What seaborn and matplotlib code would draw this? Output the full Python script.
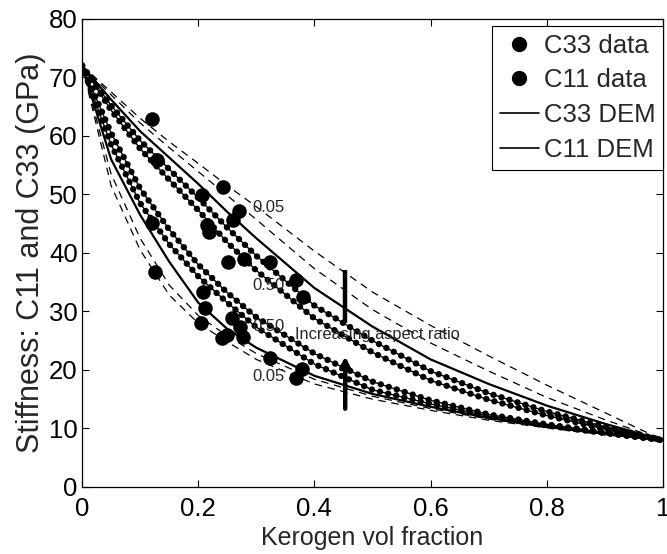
import matplotlib
matplotlib.use("Agg")
import matplotlib.pyplot as plt
import seaborn as sns
import pandas as pd
from matplotlib.lines import Line2D

# ---------------- data ----------------
kerogen = [0, 0.05, 0.1, 0.15, 0.2, 0.25, 0.3, 0.4, 0.5, 0.6, 0.7, 0.8, 0.9, 1.0]

# C11 DEM family (aspect ratio 0.05 on top -> 0.50 at bottom)
c11_ar005 = [72, 67.5, 63.0, 59.0, 55.3, 51.5, 47.9, 40.3, 33.3, 27.6, 22.4, 17.4, 12.7, 8]
c11_ar010 = [72, 67.0, 62.2, 58.0, 53.9, 49.8, 45.7, 37.3, 30.3, 24.6, 19.8, 15.3, 11.5, 8]
c11_ar020 = [72, 66.2, 60.8, 56.3, 51.8, 47.0, 42.5, 34.0, 27.4, 21.8, 17.6, 13.9, 10.8, 8]
c11_ar030 = [72, 65.2, 59.2, 54.3, 49.4, 44.3, 39.5, 31.0, 25.0, 19.8, 16.0, 12.9, 10.3, 8]
c11_ar050 = [72, 64.4, 57.8, 52.5, 47.3, 41.8, 37.0, 28.8, 23.0, 18.2, 14.9, 12.2, 9.9, 8]

# C33 DEM family (aspect ratio 0.50 on top -> 0.05 at bottom)
c33_ar050 = [72, 60.5, 51.0, 44.0, 38.0, 33.2, 29.0, 22.8, 18.0, 14.8, 12.4, 10.7, 9.3, 8]
c33_ar030 = [72, 58.5, 48.5, 41.5, 36.0, 31.5, 27.3, 21.0, 16.6, 14.2, 12.1, 10.5, 9.2, 8]
c33_ar020 = [72, 56.0, 46.5, 38.5, 31.5, 27.0, 23.8, 19.0, 15.9, 13.7, 11.8, 10.3, 9.1, 8]
c33_ar010 = [72, 53.5, 42.5, 34.5, 29.3, 25.8, 22.8, 18.4, 15.5, 13.4, 11.6, 10.2, 9.0, 8]
c33_ar005 = [72, 51.5, 40.5, 32.8, 28.0, 24.8, 21.8, 17.6, 15.0, 13.1, 11.4, 10.1, 8.9, 8]

# measured data
c11_x = [0.120, 0.129, 0.207, 0.242, 0.215, 0.218, 0.260, 0.270, 0.252, 0.279, 0.324, 0.369, 0.381]
c11_y = [62.9, 55.9, 49.9, 51.2, 44.8, 43.6, 45.7, 47.1, 38.5, 39.0, 38.4, 35.4, 32.5]
c33_x = [0.120, 0.126, 0.209, 0.212, 0.205, 0.258, 0.272, 0.241, 0.250, 0.277, 0.324, 0.378, 0.369]
c33_y = [45.1, 36.8, 33.4, 30.5, 28.0, 28.9, 27.4, 25.5, 26.0, 25.6, 22.1, 20.2, 18.6]

x_ticks = [0, 0.2, 0.4, 0.6, 0.8, 1]
x_ticklabels = ["0", "0.2", "0.4", "0.6", "0.8", "1"]
y_ticks = [0, 10, 20, 30, 40, 50, 60, 70, 80]

# ---------------- style ----------------
sns.set_style("ticks")
plt.rcParams["font.family"] = ["Liberation Sans", "DejaVu Sans"]

fig = plt.figure(figsize=(6.67, 5.54), dpi=100)
ax = fig.add_axes([0.123, 0.121, 0.871, 0.845])


def curve(y, kind):
    df = pd.DataFrame({"x": kerogen, "y": y})
    if kind == "dash":
        ln = sns.lineplot(data=df, x="x", y="y", ax=ax, color="black", lw=0.9,
                          estimator=None, sort=False, legend=False).lines[-1]
        ln.set_linestyle((0, (6, 4.5)))
    elif kind == "solid":
        sns.lineplot(data=df, x="x", y="y", ax=ax, color="black", lw=1.6,
                     estimator=None, sort=False, legend=False)
    else:
        sns.lineplot(data=df, x="x", y="y", ax=ax, color="black", lw=1.0,
                     estimator=None, sort=False, legend=False)
        ln = sns.lineplot(data=df, x="x", y="y", ax=ax, color="black", lw=4.6,
                          estimator=None, sort=False, legend=False).lines[-1]
        ln.set_linestyle((0, (0.01, 1.3)))
        ln.set_dash_capstyle("round")


curve(c11_ar005, "dash")
curve(c11_ar010, "dash")
curve(c11_ar020, "solid")
curve(c11_ar030, "dot")
curve(c11_ar050, "dot")

curve(c33_ar050, "dot")
curve(c33_ar030, "dot")
curve(c33_ar020, "solid")
curve(c33_ar010, "dash")
curve(c33_ar005, "dash")

sns.scatterplot(x=c33_x, y=c33_y, ax=ax, color="black", s=110, edgecolor="black",
                linewidth=0, zorder=5, legend=False)
sns.scatterplot(x=c11_x, y=c11_y, ax=ax, color="black", s=110, edgecolor="black",
                linewidth=0, zorder=5, legend=False)

# annotations
ax.text(0.293, 47.7, "0.05", fontsize=12, va="center", ha="left")
ax.text(0.293, 34.5, "0.50", fontsize=12, va="center", ha="left")
ax.text(0.293, 27.4, "0.50", fontsize=12, va="center", ha="left")
ax.text(0.293, 18.9, "0.05", fontsize=12, va="center", ha="left")
ax.text(0.367, 26.0, "Increasing aspect ratio", fontsize=11.8, va="center", ha="left")
ax.plot([0.453, 0.453], [37.0, 28.0], color="black", lw=3.2, solid_capstyle="butt", zorder=6)
ax.annotate("", xy=(0.453, 22.8), xytext=(0.453, 12.9),
            arrowprops=dict(arrowstyle="-|>", lw=3.2, color="black", mutation_scale=14),
            zorder=6)

# legend
handles = [
    Line2D([], [], marker="o", ls="none", color="black", markersize=10),
    Line2D([], [], marker="o", ls="none", color="black", markersize=10),
    Line2D([], [], color="black", lw=1.2),
    Line2D([], [], color="black", lw=1.2),
]
leg = ax.legend(handles, ["C33 data", "C11 data", "C33 DEM", "C11 DEM"],
                loc="upper right", bbox_to_anchor=(1.0, 0.985), borderaxespad=0,
                fontsize=18.5, frameon=True, fancybox=False, framealpha=1,
                edgecolor="black", handlelength=1.5, handletextpad=0.2,
                labelspacing=0.42, borderpad=0.3)
leg.get_frame().set_linewidth(0.8)

ax.set_xlim(0, 1)
ax.set_ylim(0, 80)
ax.set_xticks(x_ticks)
ax.set_xticklabels(x_ticklabels)
ax.set_yticks(y_ticks)
ax.tick_params(direction="in", top=True, right=True, length=5, width=0.8,
               labelsize=18.5, colors="black")
ax.tick_params(axis="x", pad=7)
ax.tick_params(axis="y", pad=3)
for s in ax.spines.values():
    s.set_visible(True)
    s.set_color("black")
    s.set_linewidth(0.9)
ax.set_xlabel("Kerogen vol fraction", fontsize=18, labelpad=4)
ax.set_ylabel("Stiffness: C11 and C33 (GPa)", fontsize=22, labelpad=2)

fig.savefig("out.png", dpi=100)
